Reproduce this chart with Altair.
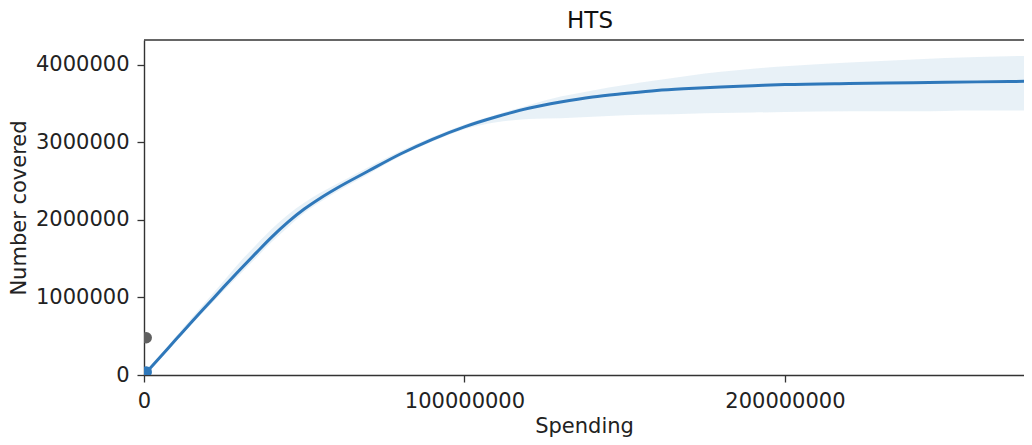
import altair as alt
import pandas as pd

# Spending (in millions) and fitted curve / confidence band (in millions covered)
spend_m = [0, 5, 10, 15, 20, 25, 30, 35, 40, 45, 50, 55, 60, 70, 80, 90, 100, 110, 120,
           130, 140, 150, 160, 170, 180, 190, 200, 220, 240, 260, 280]
fit_m = [0.0, 0.23, 0.46, 0.69, 0.915, 1.14, 1.36, 1.575, 1.785, 1.975, 2.14, 2.28, 2.405,
         2.63, 2.85, 3.04, 3.20, 3.33, 3.44, 3.52, 3.585, 3.63, 3.67, 3.695, 3.715, 3.73,
         3.745, 3.76, 3.77, 3.78, 3.79]
lower_m = [0.0, 0.22, 0.44, 0.66, 0.875, 1.09, 1.30, 1.51, 1.72, 1.91, 2.09, 2.23, 2.36,
           2.59, 2.82, 3.01, 3.17, 3.26, 3.30, 3.31, 3.33, 3.35, 3.36, 3.37, 3.38, 3.385,
           3.39, 3.40, 3.40, 3.41, 3.41]
upper_m = [0.0, 0.25, 0.50, 0.74, 0.98, 1.22, 1.46, 1.68, 1.89, 2.07, 2.22, 2.35, 2.46,
           2.68, 2.89, 3.07, 3.23, 3.36, 3.48, 3.59, 3.67, 3.74, 3.80, 3.86, 3.91, 3.95,
           3.98, 4.03, 4.07, 4.10, 4.12]

# Observed points
pt_spend = [700000, 700000]
pt_covered = [480000, 40000]
pt_color = ["#5f5f5f", "#2f78ba"]

curve = pd.DataFrame({
    "Spending": [v * 1e6 for v in spend_m],
    "fit": [v * 1e6 for v in fit_m],
    "lo": [v * 1e6 for v in lower_m],
    "hi": [v * 1e6 for v in upper_m],
})
pts = pd.DataFrame({"Spending": pt_spend, "covered": pt_covered, "c": pt_color})
frame = pd.DataFrame({"k": [0]})

FONT = "DejaVu Sans"
FS = 21
W, H = 880, 335
SPINE = "#333333"

xscale = alt.Scale(domain=[0, 274.6e6], nice=False, zero=False)
yscale = alt.Scale(domain=[0, 4.32e6], nice=False, zero=False)

xaxis = alt.Axis(values=[0, 100000000, 200000000], format="d", title="Spending",
                 grid=False, domain=True, domainColor=SPINE, domainWidth=1.4,
                 tickSize=7, labelPadding=8, titlePadding=4,
                 labelFontSize=FS, titleFontSize=FS,
                 labelFont=FONT, titleFont=FONT, titleFontWeight="normal",
                 labelColor="#222222", titleColor="#222222", tickColor=SPINE,
                 tickWidth=1.3, labelFlush=False)
yaxis = alt.Axis(values=[0, 1000000, 2000000, 3000000, 4000000], format="d",
                 title="Number covered", grid=False, domain=True, domainColor=SPINE,
                 domainWidth=1.4, tickSize=7, labelPadding=8, titlePadding=6,
                 labelFontSize=FS, titleFontSize=FS,
                 labelFont=FONT, titleFont=FONT, titleFontWeight="normal",
                 labelColor="#222222", titleColor="#222222", tickColor=SPINE,
                 tickWidth=1.3, labelFlush=False)

band = alt.Chart(curve).mark_area(color="#1f77b4", opacity=0.1, clip=True,
                                  interpolate="monotone").encode(
    x=alt.X("Spending:Q", scale=xscale, axis=xaxis),
    y=alt.Y("lo:Q", scale=yscale, axis=yaxis),
    y2="hi:Q",
)
line = alt.Chart(curve).mark_line(color="#2f78ba", strokeWidth=3, clip=True,
                                  interpolate="monotone").encode(
    x=alt.X("Spending:Q", scale=xscale),
    y=alt.Y("fit:Q", scale=yscale),
)
points = alt.Chart(pts).mark_circle(size=130, opacity=1, clip=True).encode(
    x=alt.X("Spending:Q", scale=xscale),
    y=alt.Y("covered:Q", scale=yscale),
    color=alt.Color("c:N", scale=None, legend=None),
)
top = alt.Chart(frame).mark_rule(color=SPINE, strokeWidth=1.4).encode(
    x=alt.value(0), x2=alt.value(W), y=alt.value(0)
)

chart = alt.layer(band, points, line, top).properties(
    width=W,
    height=H,
    title=alt.Title("HTS", fontSize=23, font=FONT, fontWeight="normal",
                    color="#111111", offset=6, anchor="middle", dx=6),
    autosize=alt.AutoSizeParams(type="none"),
    padding={"left": 136, "top": 32, "right": 0, "bottom": 62},
).configure_view(stroke=None)

chart.save("out.html", embed_options={"renderer": "svg", "actions": False})
